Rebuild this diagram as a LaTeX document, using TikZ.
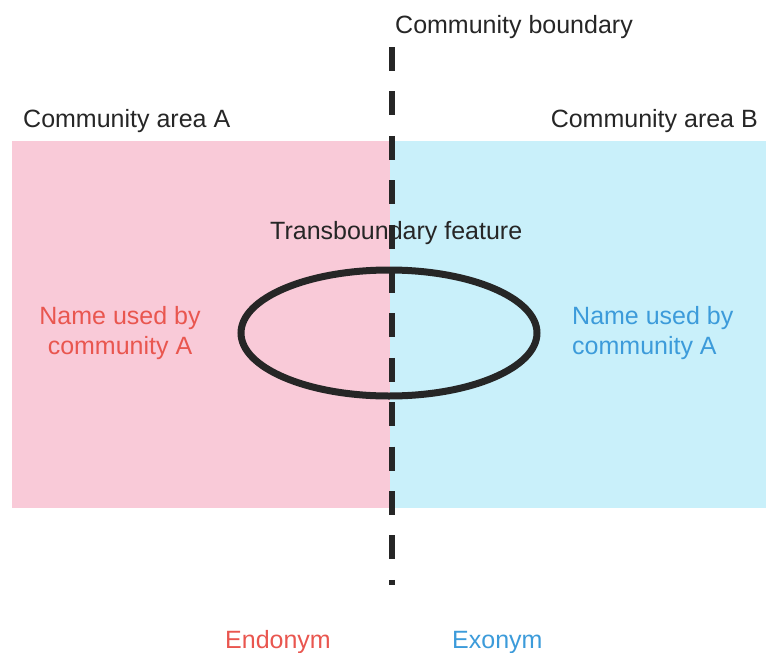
\documentclass[tikz,border=0pt]{standalone}
\usepackage{fontspec}
\setmainfont{Liberation Sans}
\definecolor{pinkfill}{HTML}{F9CAD8}
\definecolor{bluefill}{HTML}{C9F0FA}
\definecolor{redtxt}{HTML}{E9564F}
\definecolor{bluetxt}{HTML}{3C9BDA}
\definecolor{ink}{HTML}{262626}
\begin{document}
\begin{tikzpicture}[x=1pt,y=-1pt,
  lbl/.style={inner sep=0pt, font=\fontsize{25}{30}\selectfont, text=ink},
  boundaryline/.style={line width=6pt, draw=ink, dash pattern=on 24pt off 20.4pt},
  featureline/.style={line width=7pt, draw=ink}]
\useasboundingbox (0,0) rectangle (766,653);
\fill[pinkfill] (12,141) rectangle (390,508);
\fill[bluefill] (390,141) rectangle (766,508);
\node[lbl, anchor=base west] (boundary) at (395,33) {Community boundary};
\node[lbl, anchor=base west] (areaA) at (23,127) {Community area A};
\node[lbl, anchor=base east] (areaB) at (758,127) {Community area B};
\node[lbl, anchor=base west] (feature) at (270,239) {Transboundary feature};
\node[lbl, text=redtxt, align=center, anchor=center] (nameA) at (120,333.5) {Name used by\\community A};
\node[lbl, text=bluetxt, align=left, anchor=west] (nameB) at (572,333.5) {Name used by\\community A};
\node[lbl, text=redtxt, anchor=base west] (endo) at (225,648) {Endonym};
\node[lbl, text=bluetxt, anchor=base west] (exo) at (452,648) {Exonym};
\draw[featureline] (389,333) ellipse [x radius=148, y radius=63];
\coordinate (btop) at (392,47);
\coordinate (bbot) at (392,585);
\draw[boundaryline] (btop) -- (bbot);
\end{tikzpicture}
\end{document}
